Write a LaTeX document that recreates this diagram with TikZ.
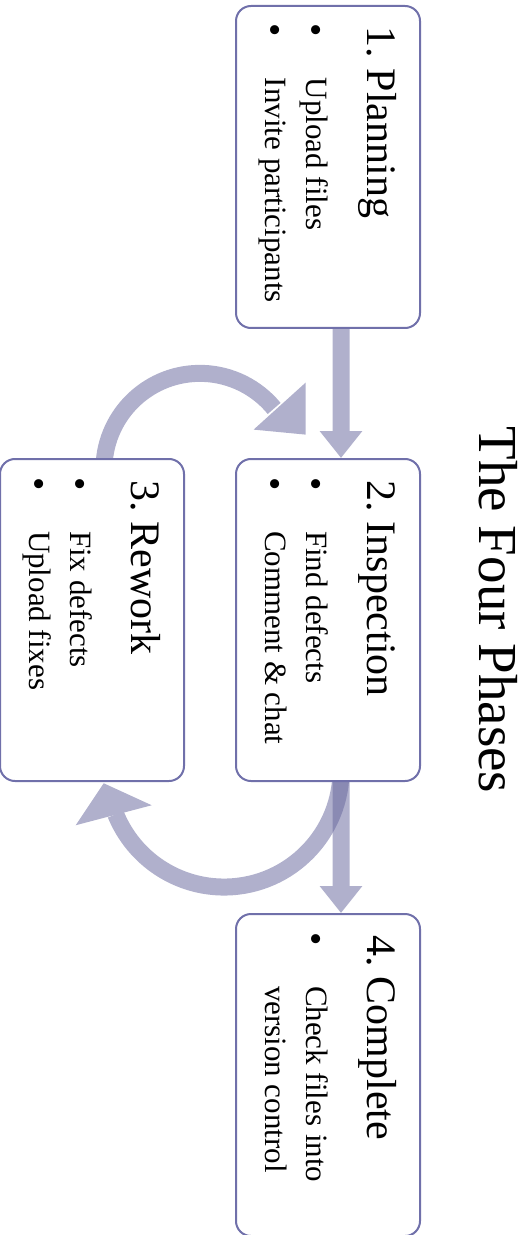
\documentclass[tikz,border=0pt]{standalone}
\usepackage{fontspec}
\setmainfont{Liberation Serif}
\usepackage{tikz}
\usetikzlibrary{arrows.meta, calc, backgrounds}
\definecolor{boxline}{RGB}{112,112,170}
\definecolor{flowfill}{RGB}{103,103,157}
\frenchspacing

\newcommand{\phasehead}[1]{{\fontsize{21pt}{21pt}\selectfont\hspace*{10.5pt}\rule{0pt}{26.5pt}#1\par}\vspace{10pt}}
\newcommand{\phaseitem}[1]{{\fontsize{15.5pt}{20.5pt}\selectfont\hangindent=36pt\hangafter=1
  \hspace*{9pt}\makebox[27pt][l]{\raisebox{-1.2pt}{\fontsize{19pt}{19pt}\selectfont\textbullet}}#1\par}}
\newcommand{\phasetext}[2]{\begin{minipage}[t][92pt][t]{161pt}\setlength{\parindent}{0pt}\raggedright
  \phasehead{#1}#2\end{minipage}}

\begin{document}
\begin{tikzpicture}[x=0.5pt,y=0.5pt,
    phase/.style={draw=boxline,line width=1pt,fill=white,rounded corners=7.5pt,
      inner sep=0pt,rotate=-90,anchor=north west},
    flow/.style={draw=flowfill,line width=8.5pt},
    flowtip/.style={-{Triangle[width=20.5pt,length=13.5pt]}}]
    \useasboundingbox (0,0) rectangle (524,-1235);
    \node[rotate=-90,anchor=base,font=\fontsize{27.5pt}{27.5pt}\selectfont] (title) at (479,-610) {The Four Phases};
    \node[phase] (plan) at (421,-5) {\phasetext{1. Planning}{\phaseitem{Upload files}\phaseitem{Invite participants}}};
    \node[phase] (insp) at (421,-458) {\phasetext{2. Inspection}{\phaseitem{Find defects}\phaseitem{Comment \& chat}}};
    \node[phase] (rework) at (185,-458) {\phasetext{3. Rework}{\phaseitem{Fix defects}\phaseitem{Upload fixes}}};
    \node[phase] (done) at (421,-913) {\phasetext{4. Complete}{\phaseitem{Check files into\newline version control}}};
    \begin{scope}[on background layer]
        \begin{scope}[transparency group,opacity=.52]
            \draw[flow,flowtip] ([xshift=6.5pt]plan.east) -- ([xshift=6.5pt]insp.west);
        \end{scope}
        \begin{scope}[transparency group,opacity=.52]
            \draw[flow,flowtip] ([xshift=6.5pt]insp.east) -- ([xshift=6.5pt]done.west);
        \end{scope}
        \begin{scope}[transparency group,opacity=.52]
            \draw[flow] ([xshift=6pt,yshift=-4pt]rework.west) arc[start angle=178,end angle=39.4,radius=96] coordinate (backend);
            \fill[flowfill] ($(backend)+(-20.5,-21.2)$) -- ($(backend)+(31.5,25.8)$) -- ($(backend)+(31.5,-26.2)$) -- cycle;
        \end{scope}
        \begin{scope}[transparency group,opacity=.52]
            \draw[flow] ([xshift=6.5pt,yshift=7pt]insp.east) arc[start angle=1,end angle=-157.8,radius=117] coordinate (fixend);
            \fill[flowfill] ($(fixend)+(-40,-11)$) -- ($(fixend)+(36,9)$) -- ($(fixend)+(-12,31)$) -- cycle;
        \end{scope}
    \end{scope}
\end{tikzpicture}
\end{document}
